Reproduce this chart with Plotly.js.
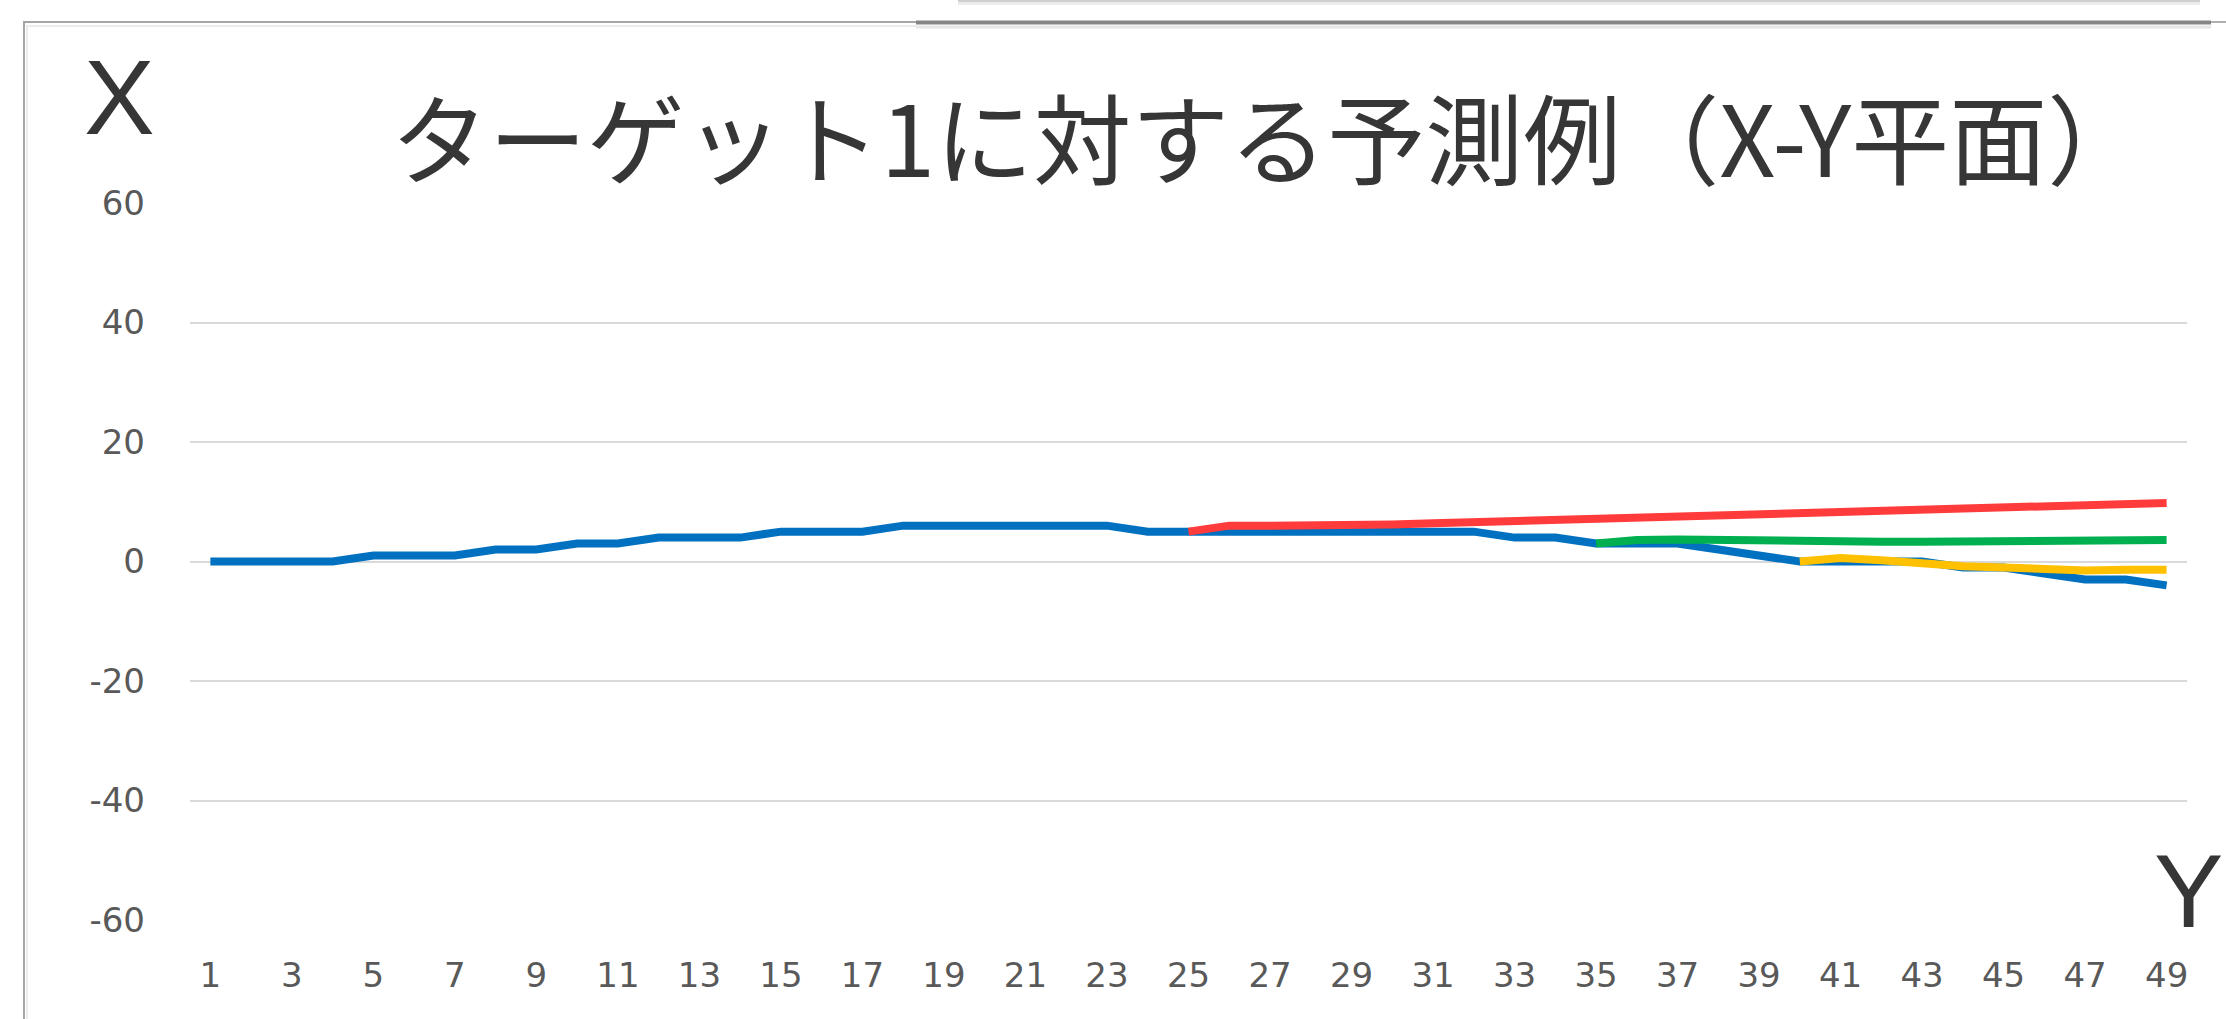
<!DOCTYPE html>
<html>
<head>
<meta charset="utf-8">
<script src="https://cdn.plot.ly/plotly-3.0.1.min.js"></script>
<style>
  html, body { margin: 0; padding: 0; background: #ffffff; }
  #chart { width: 2226px; height: 1019px; }
</style>
</head>
<body>
<div id="chart"></div>
<script>
// ---- data ----
const categories = [1,2,3,4,5,6,7,8,9,10,11,12,13,14,15,16,17,18,19,20,21,22,23,24,25,26,27,28,29,30,31,32,33,34,35,36,37,38,39,40,41,42,43,44,45,46,47,48,49];
const xTickLabels = ["1","3","5","7","9","11","13","15","17","19","21","23","25","27","29","31","33","35","37","39","41","43","45","47","49"];
const yTickLabels = ["-60","-40","-20","0","20","40","60"];

// actual trajectory (blue), categories 1..49
const actual = [0,0,0,0,1,1,1,2,2,3,3,4,4,4,5,5,5,6,6,6,6,6,6,5,5,5,5,5,5,5,5,5,4,4,3,3,3,2,1,0,0,0,0,-1,-1,-2,-3,-3,-4];
// prediction from step 25 (red), categories 25..49
const predFrom25 = [5,6,6,6,6,6.2,6.4,6.6,6.8,7,7.1,7.4,7.7,7.8,8,8.2,8.4,8.5,8.7,8.8,9.1,9.4,9.5,9.8,9.8];
// prediction from step 35 (green), categories 35..49
const predFrom35 = [3,3.6,3.7,3.6,3.3,3.3,3.3,3.3,3.3,3.3,3.3,3.5,3.6,3.6,3.6];
// prediction from step 40 (yellow), categories 40..49
const predFrom40 = [0,0.6,0.2,-0.4,-0.8,-1,-1.3,-1.5,-1.4,-1.4];

const chartTitle = "ターゲット1に対する予測例（X-Y平面）";
const xAxisName = "Y";
const yAxisName = "X";

// ---- layout geometry (pixels) ----
const W = 2226, H = 1019;
const L = 190, R = 39, T = 203, B = 99;
const PW = W - L - R, PH = H - T - B;
const px = v => (v - L) / PW;          // pixel x -> paper x
const py = v => (H - B - v) / PH;      // pixel y -> paper y

const lw = 8;
const traces = [
  { x: categories, y: actual, name: "実測", mode: "lines",
    line: { color: "#0070C0", width: lw } },
  { x: categories.slice(24), y: predFrom25, name: "予測(25)", mode: "lines",
    line: { color: "#FF3B3B", width: lw } },
  { x: categories.slice(34), y: predFrom35, name: "予測(35)", mode: "lines",
    line: { color: "#00B050", width: lw } },
  { x: categories.slice(39), y: predFrom40, name: "予測(40)", mode: "lines",
    line: { color: "#FFC000", width: lw } }
];

const tickFont = { family: "DejaVu Sans, sans-serif", size: 34, color: "#595959" };

const layout = {
  width: W, height: H,
  margin: { l: L, r: R, t: T, b: B, pad: 0 },
  paper_bgcolor: "#ffffff",
  plot_bgcolor: "#ffffff",
  showlegend: false,
  title: {
    text: chartTitle,
    font: { family: "Noto Sans CJK JP, sans-serif", size: 98, color: "#363636" },
    x: 1268 / W, xanchor: "center",
    y: 1 - 143 / H, yanchor: "middle",
    xref: "container", yref: "container"
  },
  xaxis: {
    range: [0.5, 49.5],
    tickmode: "array",
    tickvals: xTickLabels.map(Number),
    ticktext: xTickLabels,
    tickfont: tickFont,
    ticks: "",
    ticklabelstandoff: 32,
    showgrid: false,
    zeroline: false,
    showline: false,
    fixedrange: true
  },
  yaxis: {
    range: [-60, 60],
    tickmode: "array",
    tickvals: yTickLabels.map(Number),
    ticktext: yTickLabels,
    tickfont: tickFont,
    ticks: "",
    ticklabelstandoff: 44,
    showgrid: true,
    gridcolor: "#d9d9d9",
    gridwidth: 2,
    zeroline: false,
    showline: false,
    fixedrange: true
  },
  annotations: [
    { text: yAxisName, xref: "paper", yref: "paper", x: px(119), y: py(97),
      xanchor: "center", yanchor: "middle", showarrow: false,
      font: { family: "Liberation Sans, Arial, sans-serif", size: 106, color: "#363636" } },
    { text: xAxisName, xref: "paper", yref: "paper", x: px(2188), y: py(891),
      xanchor: "center", yanchor: "middle", showarrow: false,
      font: { family: "Liberation Sans, Arial, sans-serif", size: 104, color: "#363636" } }
  ],
  shapes: [
    // white box behind the title, hiding the top gridline
    { type: "rect", xref: "paper", yref: "paper", layer: "above",
      x0: px(372), x1: px(2146), y0: py(212), y1: py(192),
      fillcolor: "#ffffff", line: { width: 0 } },
    // outer frame: left edge
    { type: "line", xref: "paper", yref: "paper", layer: "above",
      x0: px(24), x1: px(24), y0: py(22), y1: py(1019),
      line: { color: "#a6a6a6", width: 2 } },
    { type: "line", xref: "paper", yref: "paper", layer: "above",
      x0: px(27), x1: px(27), y0: py(25), y1: py(1019),
      line: { color: "#ececec", width: 2 } },
    // outer frame: top edge (light part)
    { type: "line", xref: "paper", yref: "paper", layer: "above",
      x0: px(23), x1: px(916), y0: py(22), y1: py(22),
      line: { color: "#a6a6a6", width: 2 } },
    { type: "line", xref: "paper", yref: "paper", layer: "above",
      x0: px(27), x1: px(916), y0: py(26), y1: py(26),
      line: { color: "#ececec", width: 2 } },
    // outer frame: top edge (dark part)
    { type: "line", xref: "paper", yref: "paper", layer: "above",
      x0: px(916), x1: px(2211), y0: py(22.5), y1: py(22.5),
      line: { color: "#858585", width: 4 } },
    { type: "line", xref: "paper", yref: "paper", layer: "above",
      x0: px(916), x1: px(2211), y0: py(27), y1: py(27),
      line: { color: "#e6e6e6", width: 3 } },
    { type: "line", xref: "paper", yref: "paper", layer: "above",
      x0: px(2211), x1: px(2226), y0: py(22), y1: py(22),
      line: { color: "#b0b0b0", width: 2 } },
    // window edge at the very top
    { type: "rect", xref: "paper", yref: "paper", layer: "above",
      x0: px(958), x1: px(2200), y0: py(0), y1: py(2),
      fillcolor: "#cfcfcf", line: { width: 0 } },
    { type: "rect", xref: "paper", yref: "paper", layer: "above",
      x0: px(958), x1: px(2200), y0: py(2), y1: py(5),
      fillcolor: "#ebebeb", line: { width: 0 } }
  ]
};

Plotly.newPlot("chart", traces, layout, { staticPlot: true, displayModeBar: false });
</script>
</body>
</html>
